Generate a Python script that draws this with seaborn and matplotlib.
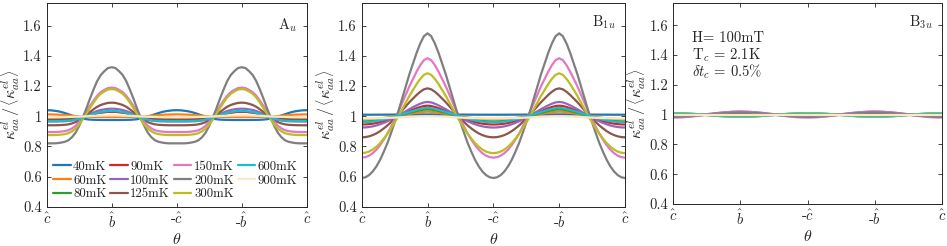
import numpy as np
import pandas as pd
import seaborn as sns
import matplotlib
matplotlib.use('Agg')
import matplotlib.pyplot as plt

sns.set_style('ticks')
plt.rcParams['font.family'] = ['serif']
plt.rcParams['font.serif'] = ['cmr10', 'DejaVu Serif']
plt.rcParams['mathtext.fontset'] = 'cm'
plt.rcParams['axes.unicode_minus'] = False

# ===== DATA =====
temps = ['40mK', '60mK', '80mK', '90mK', '100mK', '125mK',
         '150mK', '200mK', '300mK', '600mK', '900mK']
colors = ['#1f77b4', '#ff7f0e', '#2ca02c', '#d62728', '#9467bd', '#8c564b',
          '#e377c2', '#7f7f7f', '#bcbd22', '#17becf', '#fde6c8']

# normalised angular profile on a quarter period (0..90 deg, 5 deg steps), per panel
# (0 = flat minimum side, 1 = peak side)
quarter_deg = [0, 5, 10, 15, 20, 25, 30, 35, 40, 45, 50, 55, 60, 65, 70, 75, 80, 85, 90]
shape_Au = [0, 0, 0, 0.003, 0.01, 0.02, 0.04, 0.08, 0.14, 0.23, 0.34, 0.46, 0.59,
            0.71, 0.82, 0.90, 0.95, 0.99, 1.0]
shape_B1u = [0, 0.005, 0.02, 0.045, 0.08, 0.125, 0.18, 0.24, 0.31, 0.385, 0.46,
             0.545, 0.63, 0.715, 0.79, 0.865, 0.93, 0.98, 1.0]
shape_B3u = [0, 0.01, 0.03, 0.07, 0.12, 0.18, 0.25, 0.33, 0.41, 0.5, 0.59, 0.67,
             0.75, 0.82, 0.88, 0.93, 0.97, 0.99, 1.0]

# value along c-hat and along b-hat for each temperature
Au_at_c = [1.04, 1.012, 0.978, 0.975, 0.965, 0.94, 0.895, 0.82, 0.875, 0.968, 0.995]
Au_at_b = [0.975, 0.995, 1.03, 1.03, 1.05, 1.09, 1.19, 1.325, 1.18, 1.035, 1.005]
B1u_at_c = [1.01, 0.98, 0.965, 0.945, 0.925, 0.86, 0.725, 0.59, 0.755, 0.96, 0.985]
B1u_at_b = [1.012, 1.03, 1.045, 1.07, 1.095, 1.185, 1.385, 1.55, 1.285, 1.055, 1.0]
B3u_at_c = [1.0, 1.005, 1.01, 0.99, 0.985, 0.99, 0.98, 0.985, 1.01, 1.005, 1.0]
B3u_at_b = [1.0, 0.995, 0.985, 1.01, 1.02, 1.01, 1.02, 1.015, 0.985, 0.99, 1.0]

xtick_labels = [r'$\hat{c}$', r'$\hat{b}$', r'-$\hat{c}$', r'-$\hat{b}$', r'$\hat{c}$']
ytick_vals = [0.4, 0.6, 0.8, 1.0, 1.2, 1.4, 1.6]
ytick_labels = ['0.4', '0.6', '0.8', '1', '1.2', '1.4', '1.6']


def full_turn(quarter):
    """Tile the quarter-period profile over 0..360 deg using its mirror symmetry"""
    q = list(quarter)
    return q + q[-2::-1] + q[1:] + q[-2::-1]


theta = np.arange(0, 361, 5)


def panel_frame(at_c, at_b, shape):
    rows = []
    for t, lo, hi in zip(temps, at_c, at_b):
        if lo > hi:
            # peak sits on c-hat: flat part goes to b-hat
            h = 1 - np.array(full_turn(shape[::-1]))
        else:
            h = np.array(full_turn(shape))
        rows.append(pd.DataFrame({'theta': theta, 'k': lo + (hi - lo) * h, 'T': t}))
    return pd.concat(rows, ignore_index=True)


fig = plt.figure(figsize=(9.47, 2.46), dpi=100)
axes = [fig.add_axes([0.0493, 0.160, 0.2746, 0.827]),
        fig.add_axes([0.382, 0.160, 0.278, 0.827]),
        fig.add_axes([0.711, 0.171, 0.2834, 0.817])]

panels = [(Au_at_c, Au_at_b, shape_Au, r'A$_u$', 0.89),
          (B1u_at_c, B1u_at_b, shape_B1u, r'B$_{1u}$', 0.905),
          (B3u_at_c, B3u_at_b, shape_B3u, r'B$_{3u}$', 0.905)]

palette = dict(zip(temps, colors))
for i, (ax, (lo, hi, shp, name, ny)) in enumerate(zip(axes, panels)):
    df = panel_frame(lo, hi, shp)
    sns.lineplot(data=df, x='theta', y='k', hue='T', hue_order=temps, palette=palette,
                 linewidth=1.6, ax=ax, legend=(i == 0))
    ax.set_xlim(0, 360)
    ax.set_ylim(0.4, 1.75)
    ax.set_xticks([0, 90, 180, 270, 360])
    ax.set_xticklabels(xtick_labels, fontsize=10.5)
    ax.set_yticks(ytick_vals)
    ax.set_yticklabels(ytick_labels, fontsize=10.5)
    ax.tick_params(direction='in', top=True, right=True, length=3, width=0.6)
    for s in ax.spines.values():
        s.set_linewidth(0.7)
    ax.set_xlabel(r'$\theta$', fontsize=11.5, labelpad=1)
    ax.set_ylabel(r'$\kappa^{el}_{aa}\,/\,\left\langle\kappa^{el}_{aa}\right\rangle$',
                  fontsize=11.5, labelpad=1)
    ax.text(0.965, ny, name, transform=ax.transAxes, ha='right', va='center', fontsize=10.5)

leg = axes[0].legend(loc='lower left', bbox_to_anchor=(0.0, 0.0), ncol=4, frameon=False,
                     fontsize=9.3, handlelength=1.35, handletextpad=0.2, columnspacing=0.3,
                     labelspacing=0.12, borderaxespad=0.3, borderpad=0.2)

axes[2].text(0.07, 0.826, 'H= 100mT', transform=axes[2].transAxes, fontsize=10.5, va='center')
axes[2].text(0.07, 0.74, r'T$_c$ = 2.1K', transform=axes[2].transAxes, fontsize=10.5, va='center')
axes[2].text(0.07, 0.657, r'$\delta t_c$ = 0.5%', transform=axes[2].transAxes, fontsize=10.5,
             va='center')

plt.savefig('out.png', dpi=100)
plt.close()
